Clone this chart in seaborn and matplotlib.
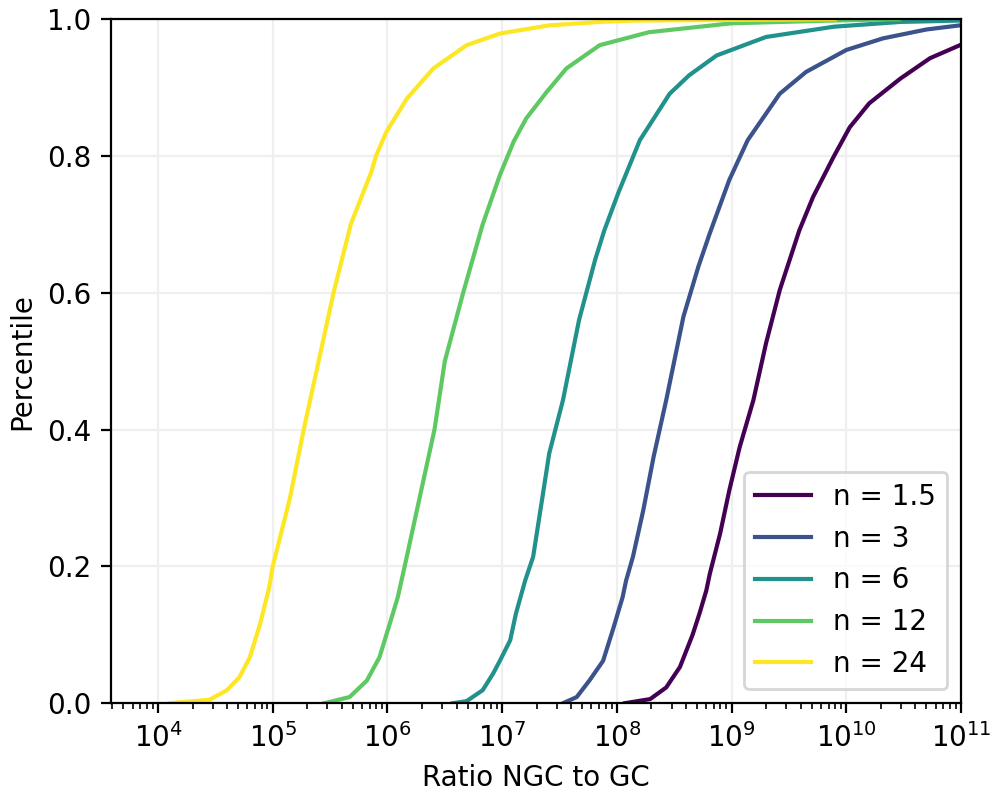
import numpy as np
import pandas as pd
import matplotlib
matplotlib.use("Agg")
import matplotlib.pyplot as plt
import seaborn as sns

# series labels
labels = ["n = 1.5", "n = 3", "n = 6", "n = 12", "n = 24"]

# log10(ratio) and percentile for each curve
lx_n1_5 = [8.07, 8.29, 8.43, 8.55, 8.66, 8.72, 8.78, 8.81, 8.90, 8.98, 9.07, 9.19, 9.30, 9.42,
           9.59, 9.71, 9.89, 10.03, 10.20, 10.47, 10.73, 10.99]
p_n1_5 = [0.0, 0.006, 0.023, 0.053, 0.100, 0.131, 0.165, 0.189, 0.248, 0.311, 0.374, 0.443, 0.526, 0.604,
          0.691, 0.740, 0.799, 0.842, 0.877, 0.913, 0.943, 0.962]

lx_n3 = [7.53, 7.65, 7.76, 7.88, 7.97, 8.05, 8.08, 8.14, 8.23, 8.32, 8.43, 8.58, 8.71, 8.81, 8.98,
         9.14, 9.42, 9.65, 10.00, 10.32, 10.70, 10.99]
p_n3 = [0.0, 0.009, 0.033, 0.062, 0.110, 0.155, 0.179, 0.214, 0.282, 0.360, 0.443, 0.565, 0.638, 0.687, 0.765,
        0.823, 0.891, 0.923, 0.955, 0.972, 0.985, 0.991]

lx_n6 = [6.57, 6.69, 6.83, 6.92, 6.98, 7.07, 7.12, 7.20, 7.27, 7.35, 7.41, 7.53, 7.67, 7.81, 7.89,
         8.01, 8.20, 8.46, 8.63, 8.87, 9.30, 9.89, 10.47, 10.99]
p_n6 = [0.0, 0.003, 0.019, 0.043, 0.062, 0.092, 0.131, 0.179, 0.214, 0.300, 0.365, 0.443, 0.560, 0.648, 0.691,
        0.745, 0.823, 0.891, 0.918, 0.947, 0.974, 0.989, 0.996, 0.998]

lx_n12 = [5.45, 5.67, 5.82, 5.93, 6.02, 6.09, 6.15, 6.28, 6.41, 6.50, 6.66, 6.83, 6.98, 7.10, 7.21,
          7.39, 7.56, 7.85, 8.28, 9.00, 9.87, 10.46]
p_n12 = [0.0, 0.009, 0.033, 0.067, 0.116, 0.155, 0.200, 0.300, 0.400, 0.500, 0.600, 0.700, 0.772, 0.821, 0.855,
         0.894, 0.928, 0.962, 0.981, 0.994, 0.998, 1.0]

lx_n24 = [4.10, 4.45, 4.60, 4.71, 4.80, 4.89, 4.97, 5.00, 5.15, 5.27, 5.40, 5.53, 5.68, 5.86, 5.90,
          5.99, 6.17, 6.40, 6.69, 6.98, 7.41, 7.85, 8.15, 9.90]
p_n24 = [0.0, 0.005, 0.019, 0.038, 0.067, 0.116, 0.170, 0.200, 0.300, 0.400, 0.500, 0.600, 0.700, 0.777, 0.800,
         0.835, 0.884, 0.928, 0.962, 0.979, 0.991, 0.996, 0.998, 1.0]

series = [(labels[0], lx_n1_5, p_n1_5), (labels[1], lx_n3, p_n3), (labels[2], lx_n6, p_n6),
          (labels[3], lx_n12, p_n12), (labels[4], lx_n24, p_n24)]

frames = []
for lab, lx, p in series:
    frames.append(pd.DataFrame({"ratio": 10.0 ** np.asarray(lx), "pct": p, "n": lab}))
df = pd.concat(frames, ignore_index=True)

plt.rcParams["font.family"] = ["DejaVu Sans"]
plt.rcParams["font.size"] = 10

fig, ax = plt.subplots(figsize=(5, 4), dpi=200)
fig.subplots_adjust(left=0.111, right=0.961, bottom=0.121, top=0.976)

palette = [tuple(c) for c in plt.cm.viridis(np.linspace(0, 1, 5))]
sns.lineplot(data=df, x="ratio", y="pct", hue="n", hue_order=labels, palette=palette,
             sort=False, estimator=None, linewidth=1.5, ax=ax)

ax.set_xscale("log")
ax.set_xlim(10 ** 3.59, 1e11)
ax.set_ylim(0, 1)
ax.set_xlabel("Ratio NGC to GC")
ax.set_ylabel("Percentile")
ax.grid(True, which="major", color="#efefef", linewidth=0.8)
ax.set_axisbelow(True)
for s in ax.spines.values():
    s.set_visible(True)
    s.set_color("black")
    s.set_linewidth(0.8)

handles, labs = ax.get_legend_handles_labels()
ax.legend(handles, labs, loc="lower right", fontsize=10)

fig.savefig("out.png", dpi=200)
